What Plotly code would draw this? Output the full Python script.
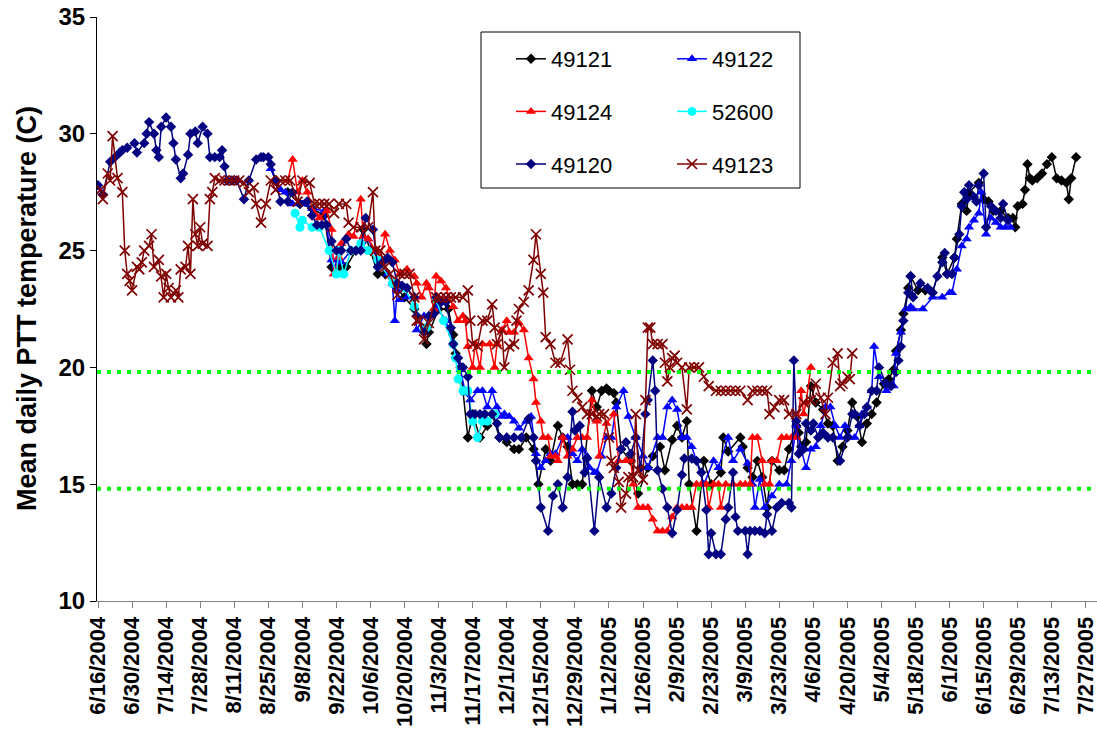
import pandas as pd
import plotly.graph_objects as go

# ---------------- data (day offset since 6/16/2004, mean daily temperature C) ----------------
START_DATE = "2004-06-16"

obs_49121 = [(78,27.5),(83,27.0),(88,26.8),(93,26.5),(96,24.3),(99,24.3),(102,24.3),(106,25.0),(109,25.9),(112,25.0),
    (115,24.0),(118,24.0),(122,23.5),(126,23.0),(130,22.5),(135,21.0),(136,21.5),(140,22.5),(144,22.5),(146,21.4),
    (147,20.6),(149,20.0),(152,17.0),(154,18.0),(157,17.0),(160,17.5),(162,18.0),(165,17.0),(168,16.8),(171,16.5),
    (173,16.5),(176,17.0),(179,16.5),(181,15.0),(184,16.5),(186,16.0),(189,17.5),(191,17.0),(193,16.6),(195,15.0),
    (197,15.0),(199,15.0),(203,19.0),(205,18.3),(207,19.0),(209,19.1),(210,19.0),(212,18.9),(213,18.5),(215,16.5),
    (219,16.0),(222,14.6),(226,15.7),(228,16.2),(231,16.6),(233,15.6),(236,16.9),(238,17.5),(240,17.0),(242,17.7),
    (243,15.0),(246,13.0),(249,16.0),(252,15.0),(256,15.5),(257,17.0),(259,16.4),(264,17.0),(265,16.6),(267,15.7),
    (269,15.3),(271,16.0),(273,15.3),(275,14.0),(277,16.0),(280,15.6),(282,15.6),(284,16.5),(287,17.5),(288,17.2),
    (289,16.6),(291,16.8),(293,19.2),(295,18.5),(298,18.2),(300,17.6),(302,17.5),(304,16.0),(306,16.6),(308,17.3),
    (310,18.5),(312,17.9),(314,16.8),(316,17.6),(318,18.0),(320,18.5),(323,19.3),(325,19.5),(327,19.9),(328,20.7),
    (330,21.6),(331,22.3),(333,23.4),(334,23.9),(337,23.3),(340,23.3),(343,23.2),(347,24.7),(349,24.0),(352,24.7),
    (353,25.5),(355,27.0),(357,26.7),(358,27.5),(362,27.9),(364,27.2),(366,27.1),(368,26.7),(371,26.7),(374,26.4),
    (376,26.4),(377,26.0),(378,26.9),(380,27.0),(381,27.6),(382,28.7),(383,28.1),(384,28.0),(386,28.1),(388,28.3),
    (390,28.7),(392,29.0),(394,28.1),(396,28.0),(398,27.9),(399,27.2),(400,28.1),(402,29.0)]

obs_49122 = [(71,28.5),(73,28.0),(75,27.6),(77,27.5),(80,27.0),(84,27.0),(88,26.8),(93,26.7),(96,24.6),(97,24.0),
    (98,24.6),(100,24.5),(104,25.0),(108,25.0),(111,25.5),(115,24.6),(119,24.0),(121,23.6),(122,22.0),(123,23.3),
    (124,22.9),(127,23.0),(130,23.0),(131,21.6),(134,22.2),(136,22.2),(139,22.6),(143,22.0),(147,20.5),(149,19.9),
    (151,18.9),(153,18.6),(156,19.0),(158,19.0),(160,18.3),(162,19.0),(164,18.3),(166,17.9),(167,18.0),(169,17.9),
    (171,17.7),(173,17.4),(176,17.7),(178,17.9),(180,16.3),(182,15.7),(184,16.0),(186,16.3),(188,16.3),(191,17.0),
    (193,17.0),(195,16.3),(197,16.0),(199,16.5),(201,16.2),(202,15.7),(204,15.5),(205,15.5),(207,16.2),(209,17.0),
    (211,17.0),(213,18.3),(216,19.0),(218,17.9),(221,17.0),(224,16.2),(226,15.7),(230,17.0),(232,17.0),(234,18.3),
    (236,18.6),(238,18.2),(240,17.0),(242,17.0),(244,16.6),(246,16.0),(249,15.0),(253,16.0),(255,15.7),(259,17.0),
    (261,16.0),(264,16.5),(267,15.9),(269,15.0),(270,14.0),(272,15.2),(274,14.0),(277,14.5),(280,15.0),(283,15.0),
    (285,16.0),(287,17.5),(289,16.5),(291,15.7),(293,16.5),(295,16.6),(297,17.5),(299,18.3),(301,18.3),(303,17.5),
    (305,17.0),(307,17.5),(309,17.0),(311,17.0),(313,17.5),(314,18.0),(316,18.3),(318,19.0),(319,20.9),(321,19.6),
    (324,19.0),(327,19.2),(328,20.6),(330,21.5),(332,22.5),(334,22.6),(335,22.5),(339,22.5),(343,23.0),(347,23.0),
    (350,23.2),(351,23.2),(353,24.2),(355,25.2),(357,25.5),(358,26.0),(360,26.3),(362,26.6),(363,27.5),(365,25.7),
    (367,26.4),(369,26.2),(371,26.0),(373,26.0),(375,26.0)]

obs_49124 = [(78,28.0),(80,28.9),(82,27.5),(84,28.0),(86,27.5),(89,26.6),(91,26.4),(94,26.7),(96,25.9),(97,24.0),
    (99,24.7),(100,25.3),(103,25.7),(105,25.6),(108,27.2),(109,25.6),(111,25.5),(114,25.0),(116,24.7),(118,25.7),
    (120,25.0),(122,24.6),(124,24.0),(127,24.2),(130,23.9),(131,23.6),(133,23.0),(135,23.6),(136,23.4),(138,22.5),
    (139,23.9),(141,23.7),(143,23.4),(146,22.6),(148,22.0),(150,22.2),(151,22.0),(152,20.9),(154,20.0),(155,21.0),
    (157,20.0),(158,21.0),(161,21.0),(163,20.0),(164,21.0),(166,21.6),(168,22.0),(169,21.5),(171,21.5),(173,21.9),
    (175,21.6),(177,20.4),(179,19.5),(180,18.5),(182,17.7),(183,17.0),(185,17.0),(186,16.2),(188,16.2),(189,16.0),
    (191,17.0),(193,16.2),(195,16.5),(197,17.0),(199,17.0),(201,17.0),(203,18.6),(205,17.7),(206,16.2),(209,17.6),
    (212,18.0),(214,16.0),(217,16.0),(219,16.0),(220,15.0),(222,14.0),(224,14.0),(226,14.0),(228,13.5),(230,13.0),
    (232,13.0),(234,13.0),(236,13.6),(238,14.0),(240,14.0),(242,14.0),(244,14.0),(246,15.0),(248,15.0),(250,15.0),
    (251,14.0),(253,15.0),(255,15.0),(256,14.0),(258,15.0),(261,15.0),(264,15.0),(266,15.0),(268,15.0),(269,17.0),
    (271,17.0),(273,16.0),(274,15.0),(276,15.0),(277,16.0),(279,16.0),(281,17.0),(283,17.0),(285,17.0),(287,17.0),
    (289,19.0),(290,18.0),(291,18.5),(293,20.0)]

obs_52600 = [(81,26.6),(83,26.0),(84,26.3),(88,26.0),(91,26.0),(95,25.0),(98,24.0),(99,25.0),(101,24.0),(104,25.0),
    (108,25.3),(111,25.0),(115,24.6),(121,23.6),(126,23.4),(130,22.6),(134,21.6),(135,21.7),(139,22.9),(142,22.0),
    (146,21.0),(147,20.4),(148,19.5),(150,19.0),(152,19.0),(154,17.7),(156,17.0),(158,17.7),(160,17.7),(163,18.0)]

obs_49120 = [(0,27.8),(2,27.4),(5,28.8),(7,29.0),(9,29.2),(10,29.3),(12,29.4),(15,29.6),(16,29.2),(19,29.6),
    (20,30.0),(21,30.5),(23,30.0),(24,29.3),(25,29.0),(26,30.3),(28,30.7),(30,30.3),(31,29.6),(32,28.9),
    (34,28.1),(35,28.3),(37,29.1),(38,30.0),(40,30.1),(41,29.6),(43,30.3),(45,30.0),(46,29.0),(48,29.0),
    (50,29.0),(51,29.3),(52,28.6),(53,28.0),(55,28.0),(57,28.0),(60,27.2),(62,28.0),(65,28.9),(67,29.0),
    (68,29.0),(70,29.0),(71,28.7),(73,28.0),(75,27.1),(78,27.1),(80,27.5),(83,27.0),(86,27.1),(88,26.5),
    (90,26.1),(92,26.1),(94,26.1),(96,25.4),(98,25.0),(100,25.0),(102,25.5),(104,25.0),(106,25.0),(108,25.0),
    (110,26.4),(113,25.9),(115,24.3),(117,24.5),(119,24.7),(121,24.5),(123,23.6),(125,23.5),(127,23.4),(130,23.0),
    (131,22.2),(134,21.5),(136,22.2),(138,22.3),(139,23.0),(141,22.8),(143,22.8),(145,21.7),(146,21.0),(148,20.4),
    (150,20.0),(152,19.6),(153,18.0),(155,18.0),(157,18.0),(159,18.0),(162,18.0),(164,17.6),(165,17.0),(168,17.0),
    (171,17.0),(174,17.0),(177,17.8),(179,17.0),(180,16.0),(182,14.0),(185,13.0),(187,14.5),(189,15.0),(191,14.0),
    (193,15.3),(195,18.1),(196,17.3),(198,17.5),(200,15.5),(201,16.1),(204,13.0),(206,15.3),(209,14.0),(211,14.6),
    (213,15.7),(215,16.5),(217,16.8),(219,16.3),(221,17.0),(223,15.7),(225,18.0),(226,18.6),(228,20.3),(229,19.0),
    (230,15.6),(232,14.8),(234,14.0),(236,12.9),(238,13.9),(240,15.4),(241,16.1),(244,16.1),(246,16.0),(248,15.5),
    (250,13.9),(251,12.0),(252,12.9),(254,12.0),(256,12.0),(258,13.5),(259,14.0),(261,15.5),(262,13.6),(263,13.0),
    (266,13.0),(267,12.0),(268,13.0),(270,13.0),(272,13.0),(274,12.9),(275,13.7),(277,13.0),(279,14.0),(281,14.2),
    (284,14.2),(285,14.0),(286,20.3),(287,17.7),(288,16.3),(290,16.5),(291,17.6),(293,17.3),(294,17.6),(296,17.0),
    (298,17.2),(300,17.0),(302,17.0),(305,16.0),(308,17.0),(310,18.0),(311,18.0),(313,17.5),(315,18.0),(316,18.3),
    (318,19.0),(320,19.0),(321,20.0),(324,19.3),(326,19.2),(328,19.8),(329,20.3),(330,20.9),(331,22.0),(333,23.2),
    (334,23.9),(335,23.0),(338,23.6),(341,23.4),(343,23.2),(345,23.9),(347,24.5),(348,24.9),(349,24.0),(351,24.0),
    (352,24.7),(354,25.7),(355,26.9),(356,27.5),(357,27.2),(358,27.8),(360,27.3),(361,27.1),(362,27.8),(364,28.3),
    (365,26.0),(367,26.9),(369,26.7),(371,26.4),(372,27.0),(374,26.3)]

obs_49123 = [(1,27.6),(2,27.2),(4,28.3),(5,28.0),(6,29.9),(8,28.1),(10,27.5),(11,25.0),(12,24.0),(13,23.7),
    (14,23.3),(16,24.3),(17,24.2),(18,24.5),(19,25.0),(21,25.2),(22,25.7),(23,24.3),(25,24.6),(26,23.9),
    (27,23.0),(28,24.0),(29,23.4),(30,23.0),(32,23.3),(33,23.0),(34,24.2),(36,24.3),(37,25.2),(38,24.0),
    (39,27.2),(40,25.7),(41,25.2),(42,26.0),(43,25.3),(45,25.2),(46,27.2),(47,27.5),(48,28.1),(50,28.0),
    (52,28.0),(54,28.0),(56,28.0),(58,28.0),(60,27.9),(62,27.5),(64,27.7),(65,27.0),(67,26.2),(69,27.0),
    (71,28.0),(73,27.6),(75,28.0),(77,28.0),(79,28.0),(82,27.1),(84,28.0),(87,27.9),(89,27.0),(91,27.0),
    (93,27.0),(95,27.0),(97,26.6),(99,27.0),(102,27.0),(103,26.2),(105,26.0),(108,26.0),(111,26.0),(113,27.5),
    (114,25.0),(116,25.0),(118,24.3),(120,24.0),(123,23.1),(124,24.0),(126,24.0),(128,24.0),(130,23.0),(131,22.0),
    (132,22.0),(134,21.2),(136,21.9),(139,23.0),(141,23.0),(143,23.0),(145,23.0),(147,23.0),(150,23.0),(152,23.3),
    (153,22.0),(154,21.0),(156,20.9),(158,22.0),(160,22.0),(162,22.7),(163,21.7),(164,21.0),(166,21.6),(167,20.0),
    (169,20.9),(171,21.0),(172,22.0),(173,22.5),(175,22.8),(177,23.3),(179,24.6),(180,25.7),(182,24.0),(183,23.2),
    (184,21.3),(186,21.0),(188,20.2),(190,20.2),(193,21.2),(194,19.9),(195,19.0),(197,18.7),(199,18.3),(201,18.0),
    (203,18.0),(205,17.9),(206,18.0),(208,18.0),(210,17.0),(211,16.0),(212,15.7),(214,15.1),(215,14.0),(217,14.6),
    (218,15.3),(220,15.3),(221,18.0),(222,15.6),(224,15.2),(225,18.6),(226,21.7),(227,21.7),(228,21.0),(230,21.0),
    (232,21.0),(233,20.2),(234,19.4),(235,20.0),(236,20.4),(237,20.5),(238,20.2),(240,20.0),(242,18.2),(243,20.0),
    (245,20.0),(247,20.0),(249,19.6),(251,19.2),(254,19.0),(256,19.0),(258,19.0),(260,19.0),(262,19.0),(264,19.0),
    (267,18.6),(269,19.0),(271,19.0),(273,19.0),(275,19.0),(276,18.0),(278,18.3),(280,18.6),(282,18.6),(284,18.0),
    (287,18.0),(290,18.5),(293,18.6),(295,19.3),(297,18.7),(299,18.0),(300,18.7),(302,20.2),(304,20.6),(305,19.2),
    (306,19.3),(308,19.6),(309,19.5),(310,20.6)]

reference_lines = [19.8, 14.8]
series_names = ["49121", "49122", "49124", "52600", "49120", "49123"]
series_obs = [obs_49121, obs_49122, obs_49124, obs_52600, obs_49120, obs_49123]

# ---------------- styles ----------------
FONT = "Liberation Sans, Arial, sans-serif"
styles = {
    "49121": dict(color="#000000", symbol="diamond", size=8, legend="legend"),
    "49122": dict(color="#0000FF", symbol="triangle-up", size=9, legend="legend2"),
    "49124": dict(color="#FF0000", symbol="triangle-up", size=9, legend="legend"),
    "52600": dict(color="#00FFFF", symbol="circle", size=9, legend="legend2"),
    "49120": dict(color="#000080", symbol="diamond", size=8, legend="legend"),
    "49123": dict(color="#800000", symbol="x-thin", size=10, legend="legend2"),
}

start = pd.Timestamp(START_DATE)
fig = go.Figure()
for name, obs in zip(series_names, series_obs):
    days = [d for d, _ in obs]
    temps = [t for _, t in obs]
    dates = [start + pd.Timedelta(days=d) for d in days]
    st = styles[name]
    marker = dict(symbol=st["symbol"], size=st["size"], color=st["color"])
    if st["symbol"] == "x-thin":
        marker["line"] = dict(color=st["color"], width=1.7)
    else:
        marker["line"] = dict(width=0)
    fig.add_trace(go.Scatter(
        x=dates, y=temps, mode="lines+markers", name=name,
        line=dict(color=st["color"], width=1.5), marker=marker,
        legend=st["legend"], legendgroup=name,
    ))

L, R, T, B = 97, 0, 17, 139
W, H = 1097, 740
pw = W - L - R
ph = H - T - B

def px_x(p):
    return (p - L) / pw

def px_y(p):
    return (H - B - p) / ph

shapes = []
for v in reference_lines:
    shapes.append(dict(type="line", xref="paper", x0=0, x1=1, yref="y", y0=v, y1=v,
                       line=dict(color="#00FF00", width=4, dash="4px,6px"), layer="above"))
shapes.append(dict(type="rect", xref="paper", yref="paper",
                   x0=px_x(481), x1=px_x(800), y0=px_y(188), y1=px_y(32),
                   line=dict(color="black", width=1), fillcolor="white", layer="above"))

legend_common = dict(
    xanchor="left", yanchor="top", bgcolor="rgba(0,0,0,0)", borderwidth=0,
    font=dict(family=FONT, size=22, color="black"), tracegroupgap=21,
    traceorder="grouped", itemwidth=30,
)

fig.update_layout(
    width=W, height=H, autosize=False,
    margin=dict(l=L, r=R, t=T, b=B),
    paper_bgcolor="white", plot_bgcolor="white",
    font=dict(family=FONT, color="black"),
    showlegend=True,
    legend=dict(x=px_x(511), y=px_y(38), **legend_common),
    legend2=dict(x=px_x(672), y=px_y(38), **legend_common),
    shapes=shapes,
    xaxis=dict(
        type="date", range=["2004-06-15 14:10", "2005-07-31 14:10"],
        tick0=START_DATE, dtick=14 * 86400000, tickformat="%-m/%-d/%Y", tickangle=-90,
        tickfont=dict(family=FONT, size=22, color="black", weight="bold"),
        ticklabeloverflow="allow",
        showline=True, linecolor="#808080", linewidth=1,
        ticks="outside", ticklen=6, tickcolor="#808080",
        showgrid=False, zeroline=False,
    ),
    yaxis=dict(
        range=[10, 35], tick0=10, dtick=5,
        tickfont=dict(family=FONT, size=24, color="black", weight="bold"),
        showline=True, linecolor="black", linewidth=1,
        ticks="outside", ticklen=6, tickcolor="black",
        showgrid=False, zeroline=False,
    ),
    annotations=[dict(
        text="Mean daily PTT temperature (C)", textangle=-90,
        xref="paper", yref="paper", x=px_x(27), y=0.5,
        xanchor="center", yanchor="middle", showarrow=False,
        font=dict(family=FONT, size=27, color="black", weight="bold"),
    )],
)

fig.write_html(
    "out.html",
    config={"displayModeBar": False},
    post_script="document.body.style.margin='0';document.body.style.overflow='hidden';",
)
